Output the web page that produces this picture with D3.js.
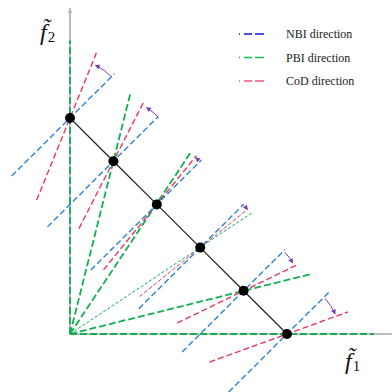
<!DOCTYPE html>
<html>
<head>
<meta charset="utf-8">
<script src="https://cdn.jsdelivr.net/npm/d3@7"></script>
<style>
  body { margin: 0; background: #fff; }
  svg { display: block; }
</style>
</head>
<body>
<div id="chart"></div>
<script>
// reference points on the line f1 + f2 = 1
var points = [[0, 1], [0.2, 0.8], [0.4, 0.6], [0.6, 0.4], [0.8, 0.2], [1, 0]];

// NBI direction: angle (deg) and lengths below / above the point (data units)
var nbiAngle = [45, 45, 45, 45, 45, 45];
var nbiBelow = [0.38, 0.43, 0.43, 0.40, 0.40, 0.38];
var nbiAbove = [0.29, 0.29, 0.29, 0.28, 0.27, 0.28];

// PBI direction: from the origin through the point, then beyond it
var pbiAngle = [90, 76, 57, 34, 14, 0];
var pbiAbove = [0.36, 0.32, 0.29, 0.29, 0.32, 0.40];

// CoD direction
var codAngle = [68, 63, 51, 39, 26, 20];
var codBelow = [0.41, 0.35, 0.39, 0.36, 0.34, 0.38];
var codAbove = [0.33, 0.31, 0.29, 0.27, 0.27, 0.30];

// rotation arrows NBI -> CoD
var arcFrom = [44, 44, 46, 46, 43, 43];
var arcTo = [64, 58, 50, 39, 30, 23];
var arcRadius = [0.27, 0.29, 0.28, 0.28, 0.26, 0.24];

var legendLabels = ["NBI direction", "PBI direction", "CoD direction"];

var WIDTH = 392, HEIGHT = 392;
var BLUE = "#2a84d6", GREEN = "#0fb04f", RED = "#e8385f", PURPLE = "#7a3bb0";
var THIN_PBI = 3;

var x = d3.scaleLinear().domain([0, 1]).range([70, 287]);
var y = d3.scaleLinear().domain([0, 1]).range([334, 118]);
var unit = x(1) - x(0);

var svg = d3.select("#chart").append("svg")
    .attr("width", WIDTH)
    .attr("height", HEIGHT);

var defs = svg.append("defs");
defs.append("marker")
    .attr("id", "head")
    .attr("viewBox", "0 0 10 10")
    .attr("refX", 8).attr("refY", 5)
    .attr("markerWidth", 5).attr("markerHeight", 5)
    .attr("markerUnits", "userSpaceOnUse")
    .attr("orient", "auto")
    .append("path").attr("d", "M0,0L10,5L0,10Z").attr("fill", PURPLE);
defs.append("marker")
    .attr("id", "axhead")
    .attr("viewBox", "0 0 10 10")
    .attr("refX", 9).attr("refY", 5)
    .attr("markerWidth", 6).attr("markerHeight", 6)
    .attr("markerUnits", "userSpaceOnUse")
    .attr("orient", "auto")
    .append("path").attr("d", "M0,1L10,5L0,9Z").attr("fill", "#b8b8b8");

function along(p, angle, len){
    var a = angle * Math.PI / 180;
    return [p[0] + Math.cos(a) * len, p[1] + Math.sin(a) * len];
}

// axes
svg.append("line")
    .attr("x1", x(0)).attr("y1", y(0))
    .attr("x2", x(0)).attr("y2", 8)
    .attr("stroke", "#bdbdbd").attr("stroke-width", 2)
    .attr("marker-end", "url(#axhead)");
svg.append("line")
    .attr("x1", x(0)).attr("y1", y(0))
    .attr("x2", WIDTH).attr("y2", y(0))
    .attr("stroke", "#bdbdbd").attr("stroke-width", 2);

var lines = svg.append("g").attr("id", "lines");

// PBI
lines.selectAll("line.pbi")
    .data(points).enter().append("line")
    .attr("class", "pbi")
    .attr("x1", x(0)).attr("y1", y(0))
    .attr("x2", function(d, i){ return x(along(d, pbiAngle[i], pbiAbove[i])[0]); })
    .attr("y2", function(d, i){ return y(along(d, pbiAngle[i], pbiAbove[i])[1]); })
    .attr("stroke", GREEN)
    .attr("stroke-width", function(d, i){ return i == THIN_PBI ? 1 : 1.8; })
    .attr("stroke-dasharray", function(d, i){ return i == THIN_PBI ? "3,2" : "7,3"; });

// CoD
lines.selectAll("line.cod")
    .data(points).enter().append("line")
    .attr("class", "cod")
    .attr("x1", function(d, i){ return x(along(d, codAngle[i], -codBelow[i])[0]); })
    .attr("y1", function(d, i){ return y(along(d, codAngle[i], -codBelow[i])[1]); })
    .attr("x2", function(d, i){ return x(along(d, codAngle[i], codAbove[i])[0]); })
    .attr("y2", function(d, i){ return y(along(d, codAngle[i], codAbove[i])[1]); })
    .attr("stroke", RED)
    .attr("stroke-width", function(d, i){ return i == THIN_PBI ? 1 : 1.4; })
    .attr("stroke-dasharray", function(d, i){ return i == THIN_PBI ? "4,2" : "6,3"; });

// NBI
lines.selectAll("line.nbi")
    .data(points).enter().append("line")
    .attr("class", "nbi")
    .attr("x1", function(d, i){ return x(along(d, nbiAngle[i], -nbiBelow[i])[0]); })
    .attr("y1", function(d, i){ return y(along(d, nbiAngle[i], -nbiBelow[i])[1]); })
    .attr("x2", function(d, i){ return x(along(d, nbiAngle[i], nbiAbove[i])[0]); })
    .attr("y2", function(d, i){ return y(along(d, nbiAngle[i], nbiAbove[i])[1]); })
    .attr("stroke", BLUE)
    .attr("stroke-width", 1.4)
    .attr("stroke-dasharray", "6,3");

// the hyperplane through the points
svg.append("path")
    .datum(points)
    .attr("d", d3.line().x(function(d){ return x(d[0]); }).y(function(d){ return y(d[1]); }))
    .attr("fill", "none")
    .attr("stroke", "#222")
    .attr("stroke-width", 1.2);

svg.selectAll("circle.pt")
    .data(points).enter().append("circle")
    .attr("class", "pt")
    .attr("cx", function(d){ return x(d[0]); })
    .attr("cy", function(d){ return y(d[1]); })
    .attr("r", 5)
    .attr("fill", "#000");

// rotation arrows
svg.selectAll("path.rot")
    .data(points).enter().append("path")
    .attr("class", "rot")
    .attr("d", function(d, i){
        var p = d3.path();
        var a0 = -arcFrom[i] * Math.PI / 180, a1 = -arcTo[i] * Math.PI / 180;
        var r = arcRadius[i] * unit;
        var cx = x(d[0]), cy = y(d[1]);
        p.moveTo(cx + r * Math.cos(a0), cy + r * Math.sin(a0));
        p.arc(cx, cy, r, a0, a1, arcTo[i] > arcFrom[i]);
        return p.toString();
    })
    .attr("fill", "none")
    .attr("stroke", PURPLE)
    .attr("stroke-width", 1)
    .attr("marker-end", "url(#head)");

// axis labels
function axisLabel(lx, ly, sub){
    var t = svg.append("text")
        .attr("x", lx).attr("y", ly)
        .attr("font-family", "'Liberation Serif', serif")
        .attr("fill", "#111");
    t.append("tspan").attr("font-style", "italic").attr("font-size", 24).text("f\u0303");
    t.append("tspan").attr("font-size", 15).attr("dy", 2).attr("dx", 1).text(sub);
}
axisLabel(40, 40, "2");
axisLabel(345, 369, "1");

// legend
var legend = svg.append("g").attr("id", "legend");
var legendColors = ["#1414e6", "#12c050", "#f2577c"];
legend.selectAll("line")
    .data(legendLabels).enter().append("line")
    .attr("x1", 239).attr("x2", 266)
    .attr("y1", function(d, i){ return 34 + i * 23.5; })
    .attr("y2", function(d, i){ return 34 + i * 23.5; })
    .attr("stroke", function(d, i){ return legendColors[i]; })
    .attr("stroke-width", 1.3)
    .attr("stroke-dasharray", "1,4,8,3,9,3");
legend.selectAll("text")
    .data(legendLabels).enter().append("text")
    .attr("x", 286)
    .attr("y", function(d, i){ return 38 + i * 23.5; })
    .attr("font-family", "'Liberation Serif', 'Times New Roman', serif")
    .attr("font-size", 12)
    .attr("fill", "#222")
    .text(function(d){ return d; });
</script>
</body>
</html>
